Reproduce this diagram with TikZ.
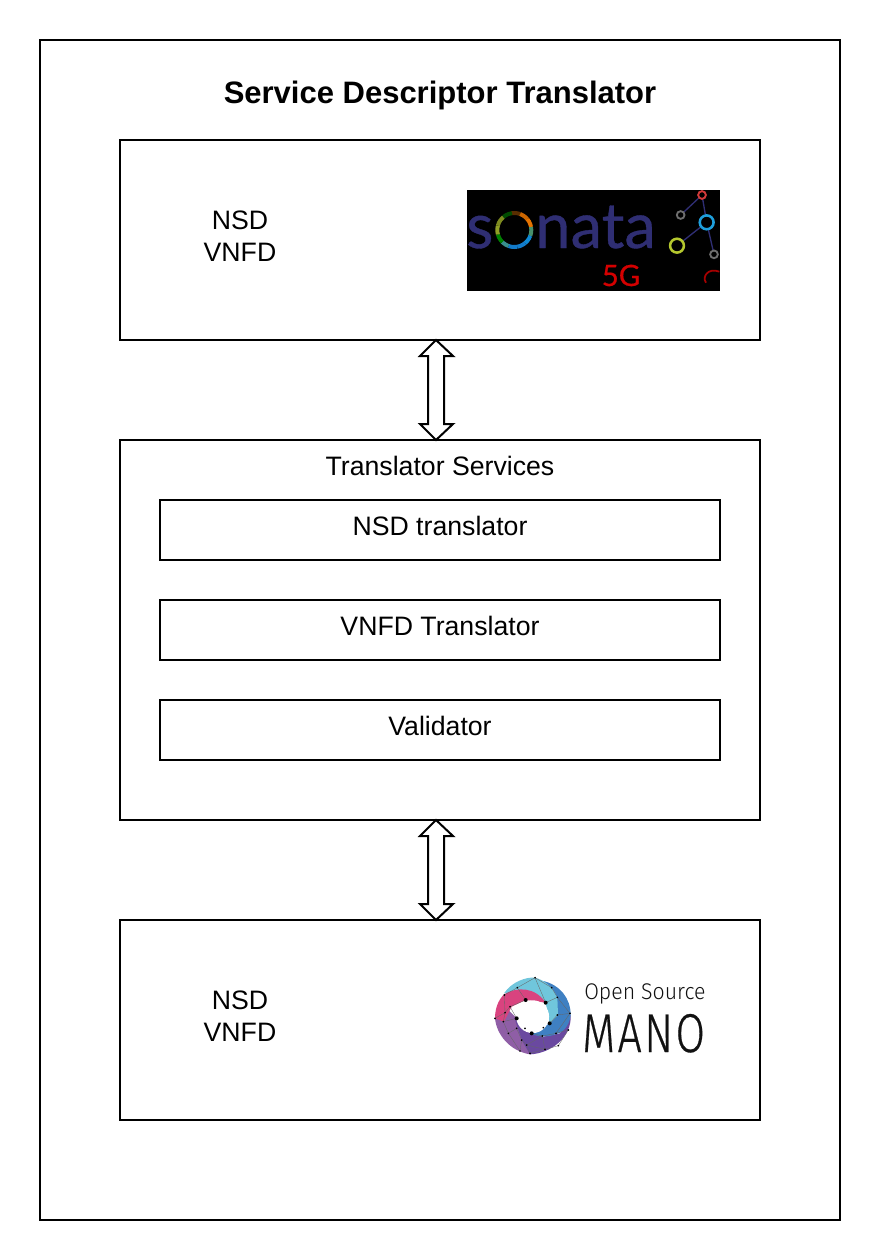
\documentclass[tikz,border=0pt]{standalone}
\usepackage{fontspec}
\setmainfont{Liberation Sans}
\newfontfamily\sonatafont[FakeBold=0.6]{Lato}
\newfontfamily\manofont[LetterSpace=6,FakeBold=0.5]{Fira Sans Light}
\newfontfamily\manotitle{Fira Sans Light}
\usetikzlibrary{calc}
\definecolor{sonavy}{HTML}{2F2E73}
\definecolor{sored}{HTML}{D40000}
\definecolor{mpink}{HTML}{D9437F}
\definecolor{mteal}{HTML}{70C6DC}
\definecolor{mblue}{HTML}{3F80C2}
\definecolor{mpurple}{HTML}{6A49A0}
\definecolor{mlilac}{HTML}{8F5EA6}
\definecolor{mtext}{HTML}{111111}
\definecolor{ygreen}{HTML}{B4C72E}
\definecolor{nblue}{HTML}{1E9FDC}
\definecolor{ngrey}{HTML}{6E6E6E}
\definecolor{nred}{HTML}{D23A3A}
\tikzset{
  box/.style={draw=black,line width=1.5pt,fill=white,inner sep=0pt,outer sep=0pt,font=\fontsize{20pt}{24pt}\selectfont,
    text height=14.25pt,text depth=6pt},
  lbl/.style={inner sep=0pt,outer sep=0pt,font=\fontsize{20pt}{24pt}\selectfont,align=center},
  arrowshape/.style={draw=black,line width=1.5pt,fill=white,line join=miter},
  mesh/.style={draw=black!60,line width=0.25pt},
  netline/.style={draw=sonavy,line width=1pt}
}
\newcommand{\dblarrow}[2]{%
  \path[arrowshape]
    ([shift={(-4,0)}]#1.south) -- ([shift={(13,16)}]#1.south) -- ([shift={(4,16)}]#1.south)
    -- ([shift={(4,-16)}]#2.north) -- ([shift={(13,-16)}]#2.north) -- ([shift={(-4,0)}]#2.north)
    -- ([shift={(-20,-16)}]#2.north) -- ([shift={(-12,-16)}]#2.north)
    -- ([shift={(-12,16)}]#1.south) -- ([shift={(-20,16)}]#1.south) -- cycle;}
\begin{document}
\begin{tikzpicture}[x=0.75pt,y=-0.75pt]
\useasboundingbox (0,0) rectangle (880,1260);
\fill[white] (0,0) rectangle (880,1260);
% frames
\node[box,minimum width=600pt,minimum height=885pt] (outer) at (440,630) {};
\node[inner sep=0pt,font=\fontsize{23.25pt}{28pt}\selectfont\bfseries] (title) at (440,95) {Service Descriptor Translator};
\node[box,minimum width=480pt,minimum height=150pt] (top) at (440,240) {};
\node[box,minimum width=480pt,minimum height=285pt] (mid) at (440,630) {};
\node[box,minimum width=480pt,minimum height=150pt] (bot) at (440,1020) {};
\node[lbl] (nsdA) at (240,236) {NSD\\VNFD};
\node[lbl] (nsdB) at (240,1016) {NSD\\VNFD};
\node[lbl] (ts) at (440,466) {Translator Services};
\node[box,minimum width=420pt,minimum height=45pt] (t1) at (440,530) {NSD translator};
\node[box,minimum width=420pt,minimum height=45pt] (t2) at (440,630) {VNFD Translator};
\node[box,minimum width=420pt,minimum height=45pt] (t3) at (440,730) {Validator};
\dblarrow{top}{mid}
\dblarrow{mid}{bot}
% SONATA logo
\fill[black] (467,190) rectangle (720,291);
\begin{scope}
\clip (467,190) rectangle (720,291);
\node[inner sep=0pt,anchor=base west,text=sonavy,font=\fontsize{47pt}{50pt}\sonatafont] (sonS) at (466,248) {s};
\node[inner sep=0pt,anchor=base west,text=sonavy,font=\fontsize{47.5pt}{50pt}\sonatafont] (sonN) at (535,248) {nata};
\node[inner sep=0pt,anchor=base,text=sored,font=\fontsize{22pt}{24pt}\sonatafont] (son5) at (621,286) {5G};
\begin{scope}[shift={(514.3,230)}]
\foreach \a/\b/\c in {
  -100/-70/{orange!35!black},-70/-40/{orange!80!black},-40/-10/{orange!90!black},-10/20/{orange!40!cyan!70!black},
  20/50/{cyan!70!blue},50/80/{cyan!60!blue},80/110/{cyan!60!blue},110/135/{cyan!60!green!70!black},
  135/165/{green!50!black},165/195/{ygreen!80!black},195/230/{ygreen!70!black},230/262/{green!30!black}}
  \draw[line width=3pt,color=\c] (\a:17) -- (\a+10:17) -- (\a+20:17) -- (\b:17);
\end{scope}
\begin{scope}[shift={(460,180)},x=0.25pt,y=-0.25pt]
\draw[netline] (726,45) -- (662,105) (726,45) -- (740,127) (740,127) -- (651,197) (740,127) -- (762,223);
\draw[draw=nred,line width=1.4pt,fill=black] (726,45) circle[radius=2.9pt];
\draw[draw=ngrey,line width=1.4pt,fill=black] (662,105) circle[radius=2.9pt];
\draw[draw=nblue,line width=1.9pt,fill=black] (740,127) circle[radius=5.2pt];
\draw[draw=ygreen,line width=1.9pt,fill=black] (651,197) circle[radius=5.2pt];
\draw[draw=ngrey,line width=1.4pt,fill=black] (762,223) circle[radius=2.9pt];
\draw[draw=red!65!black,line width=1.3pt] (738,308) .. controls (725,290) and (745,262) .. (778,275);
\end{scope}
\end{scope}
% MANO logo
\begin{scope}[shift={(480,965)},x=0.25pt,y=-0.25pt]
\fill[mlilac] (45,160) .. controls (50,210) and (90,258) .. (150,268) -- (170,262) -- (125,225) -- (110,160) -- (80,130) -- cycle;
\fill[mpurple] (272,150) .. controls (276,215) and (215,265) .. (150,268) -- (125,225) -- (105,165) -- (135,190) -- (155,205) -- (190,215) -- (240,205) -- cycle;
\fill[mblue] (190,48) .. controls (240,60) and (272,100) .. (272,150) .. controls (268,185) and (245,205) .. (228,207) .. controls (205,218) and (170,215) .. (150,205) -- (209,175) -- (232,150) -- (225,95) -- cycle;
\fill[mteal] (72,85) .. controls (95,50) and (140,35) .. (165,38) .. controls (190,45) and (215,60) .. (232,97) -- (234,150) -- (209,175) -- (197,113) .. controls (170,90) and (130,75) .. (72,85) -- cycle;
\fill[mpink] (45,160) .. controls (45,130) and (55,105) .. (72,88) .. controls (110,65) and (165,65) .. (197,113) -- (137,105) -- (95,125) -- (72,170) -- cycle;
\path[mesh] (45,160)--(75,143)--(73,90)--(112,68)--(165,38)--(215,68)--(232,97)--(270,145)--(228,205)
 (112,68)--(137,105)--(90,125)--(75,143)--(70,170)--(110,160)--(90,125)
 (165,38)--(197,113)--(232,97) (209,175)--(232,150)--(270,145) (228,205)--(187,213)--(155,205)
 (70,170)--(85,205)--(110,190)--(125,225)--(140,240)--(187,213) (85,205)--(120,258)--(125,225)
 (140,240)--(150,265)--(195,253)--(235,242)--(265,195)--(228,205) (140,240)--(195,253)--(187,213);
\fill[white] (158,155) circle[radius=12.3pt];
\foreach \x/\y in {137/105,197/113,110/160,209/175,155/205}
  \fill[black] (\x,\y) circle[radius=1.5pt];
\foreach \x/\y in {135/190,190/188,112/68,165/38,215/68,232/97,270/145,228/205,187/213,140/240,125/225,110/190,70/170,45/160,75/143,90/125,73/90,150/265,195/253,235/242,265/195,120/258,85/205,232/150}
  \fill[black] (\x,\y) circle[radius=0.7pt];
\end{scope}
\node[inner sep=0pt,anchor=base west,text=mtext,font=\fontsize{17pt}{20pt}\manotitle] (mos) at (584,999) {\scalebox{0.94}[1]{Open Source}};
\node[inner sep=0pt,anchor=base west,text=mtext,font=\fontsize{41pt}{44pt}\manofont] (mano) at (582,1052) {\scalebox{0.78}[1]{MANO}};
\end{tikzpicture}
\end{document}
